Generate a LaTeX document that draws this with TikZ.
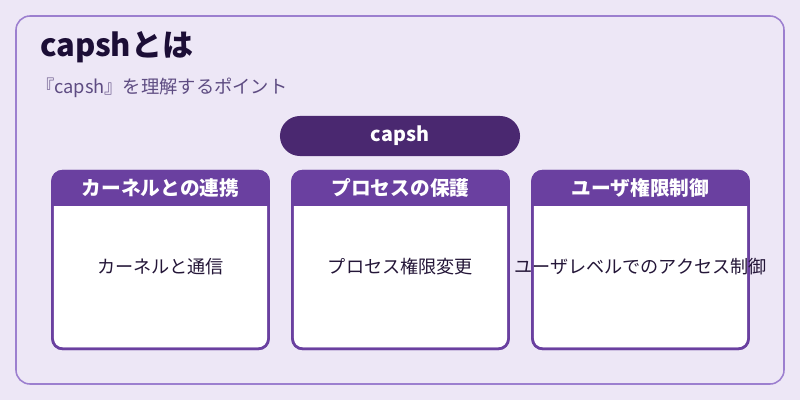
\documentclass[tikz,border=0pt]{standalone}
\usepackage{fontspec}
\setmainfont{Noto Sans CJK JP}
\usetikzlibrary{positioning,shapes.misc}
\definecolor{bgpurple}{HTML}{EDE7F6}
\definecolor{framepurple}{HTML}{9C7FCF}
\definecolor{pillpurple}{HTML}{4A2870}
\definecolor{headpurple}{HTML}{6A40A0}
\definecolor{titleink}{HTML}{1C0E36}
\definecolor{subink}{HTML}{5E4C82}
\definecolor{bodyink}{HTML}{241638}

\begin{document}
\begin{tikzpicture}
	[x=0.025cm,y=-0.025cm,
	every node/.style={inner sep=0pt,outer sep=0pt},
	frame/.style={draw=framepurple,line width=1.1pt,fill=bgpurple,rounded corners=0.35cm},
	card/.style={rectangle,draw=headpurple,line width=1.8pt,fill=white,
		rounded corners=0.25cm,minimum width=5.4cm,minimum height=4.44cm},
	pill/.style={rounded rectangle,fill=pillpurple,text=white,
		font=\bfseries\fontsize{14}{16}\selectfont,minimum width=6cm,minimum height=1cm},
	head/.style={text=white,font=\bfseries\fontsize{14}{16}\selectfont},
	body/.style={text=bodyink,font=\fontsize{12.9}{15}\selectfont}]
	
	\fill[bgpurple] (0,0) rectangle (800,400);
	\useasboundingbox (0,0) rectangle (800,400);
	\draw[frame] (16,16) rectangle (784,384);
	
	\node[anchor=base west,text=titleink,font=\bfseries\fontsize{22}{25}\selectfont]
		(title) at (40,57) {capshとは};
	\node[anchor=base west,text=subink,font=\fontsize{13}{15}\selectfont]
		(subtitle) at (36,94) {『capsh』を理解するポイント};
	
	\node[pill] (capsh) at (400,136) {capsh};
	
	\foreach \name/\x/\hd/\bd in {kernel/160.5/カーネルとの連携/カーネルと通信,
		protect/400.5/プロセスの保護/プロセス権限変更,
		user/640.5/ユーザ権限制御/ユーザレベルでのアクセス制御}
	{
		\node[card] (\name) at (\x,260) {};
		\begin{scope}
			\clip[rounded corners=0.25cm] (\name.north west) rectangle (\name.south east);
			\fill[headpurple] (\name.north west) rectangle (\name.east |- 0,206);
		\end{scope}
		\draw[headpurple,line width=1.8pt,rounded corners=0.25cm]
			(\name.north west) rectangle (\name.south east);
		\node[head] (\name-head) at (\x,188) {\hd};
		\node[body] (\name-body) at (\x,267) {\bd};
	}
\end{tikzpicture}
\end{document}
